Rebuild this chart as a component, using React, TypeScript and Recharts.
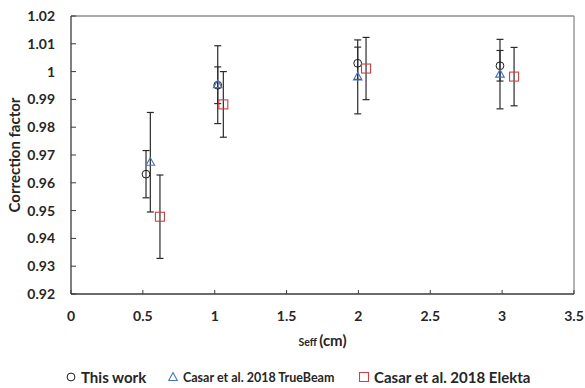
import React from "react"
import {
  ScatterChart,
  Scatter,
  XAxis,
  YAxis,
  ErrorBar,
  ReferenceLine,
  Legend,
} from "recharts"

// Seff (cm) positions, correction factors and their error bars
const thisWorkX = [0.522, 1.021, 1.995, 2.985]
const thisWorkY = [0.9631, 0.9951, 1.003, 1.0021]
const thisWorkErr = [0.0085, 0.0066, 0.0058, 0.0055]

const trueBeamX = [0.552, 1.021, 1.995, 2.985]
const trueBeamY = [0.9674, 0.9953, 0.9981, 0.9991]
const trueBeamErr = [0.0179, 0.014, 0.0133, 0.0125]

const elektaX = [0.619, 1.06, 2.053, 3.083]
const elektaY = [0.9478, 0.9882, 1.0011, 0.9982]
const elektaErr = [0.015, 0.0118, 0.0112, 0.0105]

const xTicks = [0, 0.5, 1, 1.5, 2, 2.5, 3, 3.5]
const yTicks = [0.92, 0.93, 0.94, 0.95, 0.96, 0.97, 0.98, 0.99, 1, 1.01, 1.02]

const FONT = "Lato, 'Open Sans', sans-serif"
const TEXT = "#262626"
const AXIS = "#3a3a3a"
const FRAME = "#8c8c8c"
const BAR = "#2b2b2b"
const BLUE = "#4472c4"
const RED = "#d0403c"

const toRows = (xs: number[], ys: number[], errs: number[]) =>
  xs.map((x, i) => ({ x, y: ys[i], err: errs[i] }))

const thisWork = toRows(thisWorkX, thisWorkY, thisWorkErr)
const trueBeam = toRows(trueBeamX, trueBeamY, trueBeamErr)
const elekta = toRows(elektaX, elektaY, elektaErr)

const CircleMark = (p: any) => (
  <circle cx={p.cx} cy={p.cy} r={3.9} fill="none" stroke="#1a1a1a" strokeWidth={1} />
)

const TriangleMark = (p: any) => (
  <path
    d={`M${p.cx},${p.cy - 4.5} L${p.cx + 4.3},${p.cy + 3} L${p.cx - 4.3},${p.cy + 3} Z`}
    fill="none"
    stroke={BLUE}
    strokeWidth={1.1}
  />
)

const SquareMark = (p: any) => (
  <rect x={p.cx - 4.5} y={p.cy - 4.5} width={9} height={9} fill="none" stroke={RED} strokeWidth={1.1} />
)

const YTick = (p: any) => {
  const { x, y, payload } = p
  return (
    <g>
      <line x1={x + 16} x2={x + 21} y1={y} y2={y} stroke={AXIS} />
      <text x={x} y={y} dy="0.36em" textAnchor="end" fontSize={14} fontWeight={700} fill={TEXT} fontFamily={FONT}>
        {String(Number(payload.value.toFixed(2)))}
      </text>
    </g>
  )
}

const XTick = (p: any) => {
  const { x, y, payload } = p
  return (
    <g>
      <line x1={x} x2={x} y1={y - 16} y2={y - 20} stroke={AXIS} />
      <text x={x} y={y} dy="0.75em" textAnchor="middle" fontSize={14} fontWeight={700} fill={TEXT} fontFamily={FONT}>
        {String(payload.value)}
      </text>
    </g>
  )
}

const XTitle = (p: any) => {
  const vb = p.viewBox
  return (
    <text x={vb.x + vb.width / 2} y={vb.y + 52} textAnchor="middle" fill={TEXT} fontFamily={FONT} fontWeight={700}>
      <tspan fontSize={10.5}>Seff </tspan>
      <tspan fontSize={15}>(cm)</tspan>
    </text>
  )
}

const YTitle = (p: any) => {
  const vb = p.viewBox
  const cy = vb.y + vb.height / 2
  return (
    <text
      x={20}
      y={cy}
      transform={`rotate(-90 20 ${cy})`}
      textAnchor="middle"
      fontSize={15}
      fontWeight={700}
      fill={TEXT}
      fontFamily={FONT}
    >
      Correction factor
    </text>
  )
}

const legendItems = [
  { name: "This work", left: 66, size: 15, mark: "circle" },
  { name: "Casar et al. 2018 TrueBeam", left: 168, size: 12.5, mark: "triangle" },
  { name: "Casar et al. 2018 Elekta", left: 359, size: 15, mark: "square" },
]

const LegendMark = ({ mark }: { mark: string }) => (
  <svg width={10} height={10} style={{ display: "block" }}>
    {mark === "circle" && <circle cx={5} cy={5} r={3.9} fill="none" stroke="#1a1a1a" />}
    {mark === "triangle" && <path d="M5,0.5 L9.3,8.5 L0.7,8.5 Z" fill="none" stroke={BLUE} strokeWidth={1.1} />}
    {mark === "square" && <rect x={0.5} y={0.5} width={9} height={9} fill="none" stroke={RED} strokeWidth={1.1} />}
  </svg>
)

const LegendBox = () => (
  <div style={{ position: "relative", width: 585, height: 22, fontFamily: FONT }}>
    {legendItems.map((it) => (
      <div
        key={it.name}
        style={{
          position: "absolute",
          left: it.left,
          top: 0,
          height: 22,
          display: "flex",
          alignItems: "center",
          gap: 5,
          whiteSpace: "nowrap",
        }}
      >
        <LegendMark mark={it.mark} />
        <span style={{ fontSize: it.size, fontWeight: 700, color: TEXT }}>{it.name}</span>
      </div>
    ))}
  </div>
)

export default function App() {
  return (
    <div style={{ position: "absolute", left: 0, top: 0, width: 585, height: 388, background: "#fff" }}>
      <ScatterChart width={585} height={388} margin={{ top: 16, right: 11, bottom: 0, left: 0 }}>
        <XAxis
          type="number"
          dataKey="x"
          domain={[0, 3.5]}
          ticks={xTicks}
          tickSize={0}
          tickMargin={16}
          tick={<XTick />}
          axisLine={{ stroke: AXIS, strokeWidth: 1.3 }}
          height={72}
          label={{ content: <XTitle /> }}
        />
        <YAxis
          type="number"
          dataKey="y"
          domain={[0.92, 1.02]}
          ticks={yTicks}
          tickSize={0}
          tickMargin={16}
          tick={<YTick />}
          axisLine={{ stroke: AXIS, strokeWidth: 1.3 }}
          width={71}
          label={{ content: <YTitle /> }}
        />
        <ReferenceLine y={1.02} stroke={FRAME} strokeWidth={1.3} />
        <ReferenceLine x={3.5} stroke={FRAME} strokeWidth={1.3} />
        <Scatter name="This work" data={thisWork} shape={<CircleMark />} isAnimationActive={false}>
          <ErrorBar dataKey="err" direction="y" width={3.5} stroke={BAR} strokeWidth={1.2} isAnimationActive={false} />
        </Scatter>
        <Scatter name="Casar et al. 2018 TrueBeam" data={trueBeam} shape={<TriangleMark />} isAnimationActive={false}>
          <ErrorBar dataKey="err" direction="y" width={3.5} stroke={BAR} strokeWidth={1.2} isAnimationActive={false} />
        </Scatter>
        <Scatter name="Casar et al. 2018 Elekta" data={elekta} shape={<SquareMark />} isAnimationActive={false}>
          <ErrorBar dataKey="err" direction="y" width={3.5} stroke={BAR} strokeWidth={1.2} isAnimationActive={false} />
        </Scatter>
        <Legend
          verticalAlign="bottom"
          content={<LegendBox />}
          wrapperStyle={{ left: 0, bottom: 0, width: 585, height: 22 }}
        />
      </ScatterChart>
    </div>
  )
}
